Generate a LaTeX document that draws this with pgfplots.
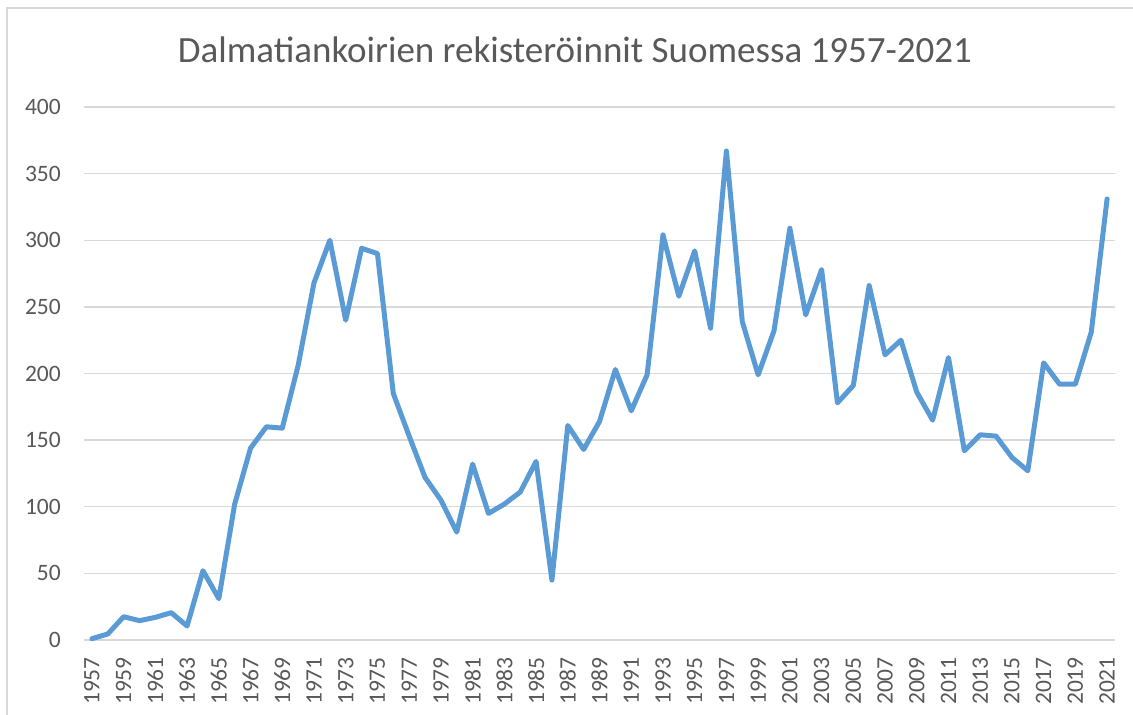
\documentclass[border=0pt]{standalone}
\usepackage{pgfplots}
\pgfplotsset{compat=1.18}
\usepackage{fontspec}
\setmainfont{Carlito}
\definecolor{txtgray}{HTML}{595959}
\definecolor{gridgray}{HTML}{D9D9D9}
\definecolor{lineblue}{HTML}{5B9BD5}
\begin{document}
\begin{tikzpicture}
\useasboundingbox (-84pt,-75pt) rectangle (1049pt,640pt);
\fill[white] (-84pt,-75pt) rectangle (1049pt,640pt);
\draw[gridgray, line width=1.2pt] (-77pt,-75pt) -- (-77pt,632pt) -- (1049pt,632pt);
\begin{axis}[
  at={(0pt,0pt)}, anchor=south west,
  scale only axis,
  width=1031pt, height=533pt,
  xmin=1956.5, xmax=2021.5,
  ymin=0, ymax=400,
  ytick={0,50,...,400},
  xtick={1957,1959,...,2021},
  ymajorgrids,
  grid style={gridgray, line width=1.3pt},
  axis line style={draw=none},
  major tick length=0pt,
  tick label style={font=\fontsize{23.5}{28}\selectfont, text=txtgray},
  /pgf/number format/1000 sep={},
  /pgf/number format/assume math mode=true,
  yticklabel style={anchor=east, inner sep=0pt},
  yticklabel shift=23pt,
  xticklabel style={rotate=90, anchor=east, inner sep=0pt},
  xticklabel shift=17pt,
  clip=false,
]
\addplot[lineblue, line width=5pt, line join=round, line cap=round] coordinates {
(1957,1) (1958,4.5) (1959,17.5) (1960,14.5) (1961,17) (1962,20.5) (1963,10.5)
(1964,52) (1965,31) (1966,102) (1967,144) (1968,160) (1969,159) (1970,206)
(1971,268) (1972,300) (1973,240) (1974,294) (1975,290) (1976,185) (1977,153)
(1978,122) (1979,105) (1980,81) (1981,132) (1982,95) (1983,102) (1984,111)
(1985,134) (1986,45) (1987,161) (1988,143) (1989,164) (1990,203) (1991,172)
(1992,199) (1993,304) (1994,258) (1995,292) (1996,234) (1997,367) (1998,239)
(1999,199) (2000,232) (2001,309) (2002,244) (2003,278) (2004,178) (2005,191)
(2006,266) (2007,214) (2008,225) (2009,186) (2010,165) (2011,212) (2012,142)
(2013,154) (2014,153) (2015,137) (2016,127) (2017,208) (2018,192) (2019,192)
(2020,231) (2021,331)
};
\end{axis}
\node[text=txtgray, font=\fontsize{37}{44}\selectfont, inner sep=0pt] at (491pt,590pt) {Dalmatiankoirien rekisteröinnit Suomessa 1957-2021};
\end{tikzpicture}
\end{document}
